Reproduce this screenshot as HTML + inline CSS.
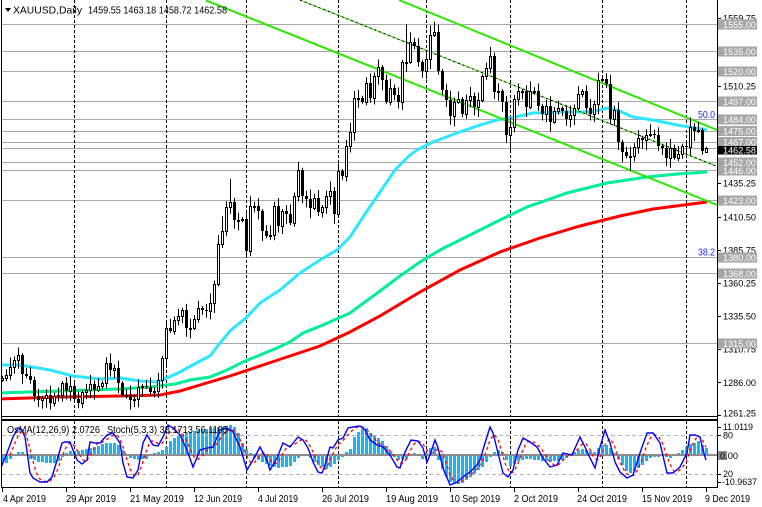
<!DOCTYPE html>
<html><head><meta charset="utf-8">
<style>
html,body{margin:0;padding:0;background:#fff;}
svg{display:block;font-family:"Liberation Sans",Arial,sans-serif;}
</style></head>
<body>
<svg id="c" width="762" height="507" viewBox="0 0 762 507" xmlns="http://www.w3.org/2000/svg">
<defs>
<clipPath id="mc"><rect x="2" y="0" width="715" height="416"/></clipPath>
<clipPath id="ic"><rect x="2" y="421" width="715" height="66"/></clipPath>
</defs>
<rect width="762" height="507" fill="#fff"/>

<!-- horizontal level lines -->
<g stroke="#a8a8a8" stroke-width="1" shape-rendering="crispEdges">
<line x1="2" x2="717" y1="24.5" y2="24.5"/>
<line x1="2" x2="717" y1="51.5" y2="51.5"/>
<line x1="2" x2="717" y1="71.5" y2="71.5"/>
<line x1="2" x2="717" y1="101.5" y2="101.5"/>
<line x1="2" x2="717" y1="119.5" y2="119.5"/>
<line x1="2" x2="717" y1="131.5" y2="131.5"/>
<line x1="2" x2="717" y1="142.5" y2="142.5"/>
<line x1="2" x2="717" y1="148.5" y2="148.5"/>
<line x1="2" x2="717" y1="162.5" y2="162.5"/>
<line x1="2" x2="717" y1="170.5" y2="170.5"/>
<line x1="2" x2="717" y1="200.5" y2="200.5"/>
<line x1="2" x2="717" y1="257.5" y2="257.5"/>
<line x1="2" x2="717" y1="273.5" y2="273.5"/>
<line x1="2" x2="717" y1="343.5" y2="343.5"/>
</g>

<!-- period separators -->
<g stroke="#000" stroke-width="1" stroke-dasharray="3,2" shape-rendering="crispEdges">
<line x1="74.5" x2="74.5" y1="0" y2="416"/>
<line x1="166.5" x2="166.5" y1="0" y2="416"/>
<line x1="246.5" x2="246.5" y1="0" y2="416"/>
<line x1="338.5" x2="338.5" y1="0" y2="416"/>
<line x1="426.5" x2="426.5" y1="0" y2="416"/>
<line x1="510.5" x2="510.5" y1="0" y2="416"/>
<line x1="602.5" x2="602.5" y1="0" y2="416"/>
<line x1="686.5" x2="686.5" y1="0" y2="416"/>
<line x1="74.5" x2="74.5" y1="421" y2="487"/>
<line x1="166.5" x2="166.5" y1="421" y2="487"/>
<line x1="246.5" x2="246.5" y1="421" y2="487"/>
<line x1="338.5" x2="338.5" y1="421" y2="487"/>
<line x1="426.5" x2="426.5" y1="421" y2="487"/>
<line x1="510.5" x2="510.5" y1="421" y2="487"/>
<line x1="602.5" x2="602.5" y1="421" y2="487"/>
<line x1="686.5" x2="686.5" y1="421" y2="487"/>
</g>

<g clip-path="url(#mc)">
<!-- moving averages -->
<polyline fill="none" stroke="#ff0000" stroke-width="3" points="0,399 60,397 120,396 160,395 180,391 200,385 230,376 260,366 290,356 320,346 350,332 380,316 420,292 460,270 500,252 540,238 580,226 620,216 653,209 707,202"/>
<polyline fill="none" stroke="#00ee96" stroke-width="3" points="0,393 60,391 120,389 150,387 175,384 190,380 210,377 227,370 243,362 260,355 277,348 290,342 303,333 323,325 350,313 380,291 400,276 420,262 440,250 460,240 480,230 500,220 527,207 547,200 567,193 587,188 607,183 627,180 647,177 677,174 707,172"/>
<polyline fill="none" stroke="#2ee6ff" stroke-width="3" points="0,365 20,365 50,370 73,376 100,379 120,378 140,381 157,382 167,378 180,372 200,361 210,356 220,343 230,331 247,317 260,303 280,290 300,273 320,260 337,250 350,237 365,214 380,192 395,170 410,155 417,150 433,142 457,133 480,125 497,120 515,117 533,113 567,112 590,112 600,110 607,108 617,110 633,117 653,120 677,125 707,130"/>
<!-- channel -->
<line x1="206" y1="0.4" x2="717" y2="205" stroke="#2ee600" stroke-width="2"/>
<line x1="399" y1="0" x2="717" y2="130" stroke="#2ee600" stroke-width="2"/>
<line x1="300" y1="0" x2="716" y2="166" stroke="#2ee600" stroke-width="1"/>
<line x1="300" y1="0" x2="716" y2="166" stroke="#000" stroke-width="1" stroke-dasharray="2,3"/>
<!-- candles -->
<g id="cand"></g>
<!-- fibo labels -->
<text x="698" y="118" font-size="10.5" fill="#2424ff" textLength="17" lengthAdjust="spacingAndGlyphs">50.0</text>
<text x="698" y="255.5" font-size="10.5" fill="#2424ff" textLength="17" lengthAdjust="spacingAndGlyphs">38.2</text>
<text x="698" y="424" font-size="10.5" fill="#2424ff" textLength="17" lengthAdjust="spacingAndGlyphs">23.6</text>
</g>

<!-- indicator window -->
<g clip-path="url(#ic)">
<g id="hist"></g>
<line x1="2" x2="717" y1="455" y2="455" stroke="#8c8c8c" stroke-width="2"/>
<line x1="2" x2="717" y1="435.5" y2="435.5" stroke="#b4b4b4" stroke-width="1" stroke-dasharray="4,3"/>
<line x1="2" x2="717" y1="474.5" y2="474.5" stroke="#b4b4b4" stroke-width="1" stroke-dasharray="4,3"/>
<g id="stoch"></g>
</g>

<!-- header -->
<polygon points="5,8 11,8 8,12" fill="#000"/>
<text x="13" y="13.5" font-size="10.5" fill="#000" textLength="69" lengthAdjust="spacingAndGlyphs">XAUUSD,Daily</text>
<text x="88" y="13.5" font-size="10.5" fill="#000" textLength="139" lengthAdjust="spacingAndGlyphs">1459.55 1463.18 1458.72 1462.58</text>

<text x="7" y="433" font-size="10.5" fill="#000" textLength="93" lengthAdjust="spacingAndGlyphs">OsMA(12,26,9) 2.0726</text>
<text x="107" y="433" font-size="10.5" fill="#000" textLength="121" lengthAdjust="spacingAndGlyphs">Stoch(5,3,3) 38.1713 56.1105</text>

<!-- frame -->
<g stroke="#000" shape-rendering="crispEdges">
<line x1="1.5" x2="1.5" y1="0" y2="488" stroke-width="1"/>
<line x1="717.5" x2="717.5" y1="0" y2="488" stroke-width="1"/>
<line x1="1" x2="718" y1="416.5" y2="416.5" stroke-width="1"/>
<line x1="1" x2="718" y1="420" y2="420" stroke-width="2"/>
<line x1="1" x2="718" y1="487.5" y2="487.5" stroke-width="1"/>
</g>

<!-- right axis ticks -->
<g stroke="#000" stroke-width="1" shape-rendering="crispEdges">
<line x1="717" x2="721" y1="18.5" y2="18.5"/>
<line x1="717" x2="721" y1="86.5" y2="86.5"/>
<line x1="717" x2="721" y1="183.5" y2="183.5"/>
<line x1="717" x2="721" y1="217.5" y2="217.5"/>
<line x1="717" x2="721" y1="250.5" y2="250.5"/>
<line x1="717" x2="721" y1="283.5" y2="283.5"/>
<line x1="717" x2="721" y1="316.5" y2="316.5"/>
<line x1="717" x2="721" y1="349.5" y2="349.5"/>
<line x1="717" x2="721" y1="382.5" y2="382.5"/>
<line x1="717" x2="721" y1="415.5" y2="415.5"/>
<line x1="717" x2="721" y1="427.5" y2="427.5"/>
<line x1="717" x2="721" y1="435.5" y2="435.5"/>
<line x1="717" x2="721" y1="474.5" y2="474.5"/>
<line x1="717" x2="721" y1="482.5" y2="482.5"/>
</g>
<g font-size="9.5" fill="#000">
<text x="723" y="21.5" textLength="33" lengthAdjust="spacingAndGlyphs">1559.75</text>
<text x="723" y="89.5" textLength="33" lengthAdjust="spacingAndGlyphs">1510.25</text>
<text x="723" y="186.5" textLength="33" lengthAdjust="spacingAndGlyphs">1435.25</text>
<text x="723" y="220.5" textLength="33" lengthAdjust="spacingAndGlyphs">1410.50</text>
<text x="723" y="253.5" textLength="33" lengthAdjust="spacingAndGlyphs">1385.75</text>
<text x="723" y="286.5" textLength="33" lengthAdjust="spacingAndGlyphs">1360.25</text>
<text x="723" y="319.5" textLength="33" lengthAdjust="spacingAndGlyphs">1335.50</text>
<text x="723" y="352.5" textLength="33" lengthAdjust="spacingAndGlyphs">1310.75</text>
<text x="723" y="386" textLength="33" lengthAdjust="spacingAndGlyphs">1286.00</text>
<text x="723" y="416.5" textLength="33" lengthAdjust="spacingAndGlyphs">1261.25</text>
<text x="723" y="430" textLength="30" lengthAdjust="spacingAndGlyphs">11.0119</text>
<text x="723" y="438.5" textLength="10" lengthAdjust="spacingAndGlyphs">80</text>
<text x="723" y="477" textLength="10" lengthAdjust="spacingAndGlyphs">20</text>
<text x="722" y="485" textLength="35" lengthAdjust="spacingAndGlyphs">-10.9637</text>
</g>
<rect x="718" y="451" width="9" height="9" fill="#8c8c8c"/>
<text x="720" y="459" font-size="9.5" fill="#000" textLength="18" lengthAdjust="spacingAndGlyphs">0.00</text>

<!-- price boxes -->
<g font-size="9.5" fill="#fff">
<rect x="718" y="19.5" width="39" height="10" fill="#a6a6a6"/><text x="723" y="28" textLength="33" lengthAdjust="spacingAndGlyphs">1555.00</text>
<rect x="718" y="46.5" width="39" height="10" fill="#a6a6a6"/><text x="723" y="55" textLength="33" lengthAdjust="spacingAndGlyphs">1535.00</text>
<rect x="718" y="66.5" width="39" height="10" fill="#a6a6a6"/><text x="723" y="75" textLength="33" lengthAdjust="spacingAndGlyphs">1520.00</text>
<rect x="718" y="96.5" width="39" height="10" fill="#a6a6a6"/><text x="723" y="105" textLength="33" lengthAdjust="spacingAndGlyphs">1497.00</text>
<rect x="718" y="114.5" width="39" height="10" fill="#a6a6a6"/><text x="723" y="123" textLength="33" lengthAdjust="spacingAndGlyphs">1484.00</text>
<rect x="718" y="126" width="39" height="10" fill="#a6a6a6"/><text x="723" y="134.5" textLength="33" lengthAdjust="spacingAndGlyphs">1475.00</text>
<rect x="718" y="137" width="39" height="10" fill="#a6a6a6"/><text x="723" y="145.5" textLength="33" lengthAdjust="spacingAndGlyphs">1467.00</text>
<rect x="718" y="165.5" width="39" height="10" fill="#a6a6a6"/><text x="723" y="174" textLength="33" lengthAdjust="spacingAndGlyphs">1446.00</text>
<rect x="718" y="157.5" width="39" height="10" fill="#a6a6a6"/><text x="723" y="166" textLength="33" lengthAdjust="spacingAndGlyphs">1452.00</text>
<rect x="718" y="195.5" width="39" height="10" fill="#a6a6a6"/><text x="723" y="204" textLength="33" lengthAdjust="spacingAndGlyphs">1423.00</text>
<rect x="718" y="252.5" width="39" height="10" fill="#a6a6a6"/><text x="723" y="261" textLength="33" lengthAdjust="spacingAndGlyphs">1380.00</text>
<rect x="718" y="268.5" width="39" height="10" fill="#a6a6a6"/><text x="723" y="277" textLength="33" lengthAdjust="spacingAndGlyphs">1368.00</text>
<rect x="718" y="338.5" width="39" height="10" fill="#a6a6a6"/><text x="723" y="347" textLength="33" lengthAdjust="spacingAndGlyphs">1315.00</text>
<rect x="718" y="146" width="39" height="8.5" fill="#000"/><text x="723" y="153.5" textLength="33" lengthAdjust="spacingAndGlyphs">1462.58</text>
</g>

<!-- date axis -->
<g stroke="#000" stroke-width="1" shape-rendering="crispEdges">
<line x1="2.5" x2="2.5" y1="488" y2="492"/>
<line x1="66.5" x2="66.5" y1="488" y2="492"/>
<line x1="130.5" x2="130.5" y1="488" y2="492"/>
<line x1="194.5" x2="194.5" y1="488" y2="492"/>
<line x1="258.5" x2="258.5" y1="488" y2="492"/>
<line x1="322.5" x2="322.5" y1="488" y2="492"/>
<line x1="386.5" x2="386.5" y1="488" y2="492"/>
<line x1="450.5" x2="450.5" y1="488" y2="492"/>
<line x1="514.5" x2="514.5" y1="488" y2="492"/>
<line x1="578.5" x2="578.5" y1="488" y2="492"/>
<line x1="642.5" x2="642.5" y1="488" y2="492"/>
<line x1="706.5" x2="706.5" y1="488" y2="492"/>
</g>
<g font-size="10" fill="#000">
<text x="3" y="502" textLength="43" lengthAdjust="spacingAndGlyphs">4 Apr 2019</text>
<text x="66" y="502" textLength="50" lengthAdjust="spacingAndGlyphs">29 Apr 2019</text>
<text x="130" y="502" textLength="54" lengthAdjust="spacingAndGlyphs">21 May 2019</text>
<text x="194" y="502" textLength="48" lengthAdjust="spacingAndGlyphs">12 Jun 2019</text>
<text x="258" y="502" textLength="40" lengthAdjust="spacingAndGlyphs">4 Jul 2019</text>
<text x="322" y="502" textLength="47" lengthAdjust="spacingAndGlyphs">26 Jul 2019</text>
<text x="386" y="502" textLength="52" lengthAdjust="spacingAndGlyphs">19 Aug 2019</text>
<text x="450" y="502" textLength="50" lengthAdjust="spacingAndGlyphs">10 Sep 2019</text>
<text x="514" y="502" textLength="44" lengthAdjust="spacingAndGlyphs">2 Oct 2019</text>
<text x="577" y="502" textLength="50" lengthAdjust="spacingAndGlyphs">24 Oct 2019</text>
<text x="642" y="502" textLength="50" lengthAdjust="spacingAndGlyphs">15 Nov 2019</text>
<text x="705" y="502" textLength="45" lengthAdjust="spacingAndGlyphs">9 Dec 2019</text>
</g>
</svg>

<script>
(function(){
var C=[1290,1292,1298,1303,1307,1293,1291,1288,1276,1273,
1275,1277,1271,1276,1277,1286,1280,1284,1274,1271,
1279,1281,1285,1281,1284,1286,1301,1296,1297,1286,
1277,1277,1273,1274,1283,1284,1283,1279,1280,1288,
1305,1327,1325,1333,1336,1341,1327,1327,1334,1342,
1341,1340,1346,1360,1390,1400,1418,1422,1408,1408,
1409,1385,1419,1419,1415,1400,1396,1397,1419,1404,
1415,1413,1406,1426,1446,1426,1424,1417,1425,1414,
1418,1426,1430,1413,1445,1441,1464,1474,1500,1500,
1497,1511,1500,1516,1523,1513,1497,1507,1502,1497,
1527,1527,1542,1539,1527,1520,1529,1547,1549,1520,
1506,1498,1486,1497,1499,1488,1498,1501,1493,1498,
1516,1522,1531,1504,1505,1497,1472,1478,1499,1505,
1505,1493,1505,1505,1494,1488,1494,1482,1490,1492,
1490,1484,1487,1492,1503,1505,1492,1488,1495,1513,
1514,1510,1484,1491,1467,1459,1456,1456,1463,1470,
1468,1472,1473,1472,1464,1462,1455,1462,1455,1458,
1464,1463,1478,1475,1476,1460,1462.58];
var HO={41:1329,54:1397,55:1411,57:1439,62:1420,68:1421,74:1452,88:1505,94:1525,101:1555,102:1546,107:1551,108:1557,122:1535,150:1516,172:1479};
var LO={12:1266,19:1267,32:1266,61:1382,112:1485,126:1466,127:1459,155:1456,157:1445};
function Y(p){return 416-(p-1261.25)*4/3;}
var wick='',bodies='',prev=1288.5;
for(var i=0;i<C.length;i++){
  var o=prev,c=C[i];
  var h=Math.max(o,c)+1.5+((i*7)%5)*1.4;
  var l=Math.min(o,c)-1.5-((i*13)%6)*1.2;
  if(HO[i]!==undefined)h=Math.max(h,HO[i]);
  if(LO[i]!==undefined)l=Math.min(l,LO[i]);
  if(i==C.length-1){o=1459.55;h=1463.18;l=1458.72;}
  var cx=2+4*i;
  wick+='M'+(cx+0.5)+' '+Y(h).toFixed(1)+'V'+Y(l).toFixed(1);
  var t=Math.round(Y(Math.max(o,c))),b=Math.round(Y(Math.min(o,c)));
  var hh=Math.max(b-t,1);
  if(c>=o){
    bodies+='<rect x="'+(cx-0.5)+'" y="'+(t+0.5)+'" width="2" height="'+hh+'" fill="#fff" stroke="#000" stroke-width="1"/>';
  }else{
    bodies+='<rect x="'+(cx-1)+'" y="'+t+'" width="3" height="'+hh+'" fill="#000"/>';
  }
  prev=c;
}
document.getElementById('cand').innerHTML='<path d="'+wick+'" stroke="#000" stroke-width="1" fill="none"/>'+bodies;

function interp(P,x){
  if(x<=P[0][0])return P[0][1];
  for(var k=1;k<P.length;k++){if(x<=P[k][0]){var a=P[k-1],b=P[k];return a[1]+(b[1]-a[1])*(x-a[0])/(b[0]-a[0]);}}
  return P[P.length-1][1];
}
var HP=[[2,-7],[6,-8],[10,-4],[14,0],[18,3],[22,3],[26,-1],[30,-4],[38,-7],[46,-8],[54,-8],[58,-6],[62,-2],[66,2],[70,4],[76,4],[82,5],[90,7],[98,9],[106,12],[114,12],[118,10],[122,5],[126,1],[130,-3],[138,-5],[146,-4],[150,-1],[154,2],[160,4],[166,8],[170,14],[174,17],[180,20],[190,23],[200,25],[210,27],[220,28],[230,30],[234,28],[238,22],[242,12],[246,6],[250,2],[254,-3],[258,-5],[264,-8],[270,-11],[278,-13],[286,-12],[292,-10],[296,-5],[300,-1],[306,1],[310,-3],[314,-7],[320,-11],[326,-14],[330,-12],[334,-9],[338,-5],[342,-2],[346,3],[350,6],[354,18],[358,23],[362,26],[366,27],[370,22],[374,20],[378,17],[382,14],[386,9],[390,4],[394,-2],[398,-5],[402,-4],[406,-4],[410,-1],[414,2],[418,1],[422,-4],[426,2],[430,7],[434,8],[438,-5],[442,-14],[446,-22],[450,-27],[456,-30],[462,-28],[466,-25],[470,-22],[476,-17],[482,-12],[486,-7],[490,-2],[494,3],[498,5],[502,3],[506,-5],[510,-11],[514,-9],[518,-6],[524,-4],[530,-4],[536,-5],[542,-6],[550,-7],[558,-6],[564,-4],[570,-1],[574,3],[578,5],[584,6],[590,4],[594,3],[598,7],[602,10],[606,10],[610,7],[614,2],[618,-4],[622,-10],[626,-16],[630,-18],[634,-16],[638,-13],[642,-10],[646,-6],[650,-3],[656,-2],[662,-1],[666,-2],[670,-3],[674,-1],[678,2],[682,5],[686,8],[690,11],[694,12],[698,14],[702,10],[706,7]];
var hs='';
for(var i=0;i<177;i++){
  var cx=2+4*i,v=Math.round(interp(HP,cx));
  if(v>0)hs+='<rect x="'+(cx-1)+'" y="'+(455-v)+'" width="3" height="'+v+'"/>';
  else if(v<0)hs+='<rect x="'+(cx-1)+'" y="455" width="3" height="'+(-v)+'"/>';
}
document.getElementById('hist').innerHTML='<g fill="#1cb4ee">'+hs+'</g>';

var SP=[[0,470],[7,453],[13,437],[18,428],[22,430],[25,437],[30,473],[33,478],[40,482],[47,482],[52,477],[58,457],[62,443],[65,442],[70,442],[73,450],[77,460],[82,464],[87,460],[90,442],[95,443],[100,443],[107,435],[113,433],[120,443],[123,463],[127,477],[133,478],[138,470],[143,443],[147,435],[153,445],[158,446],[163,437],[168,425],[173,428],[180,435],[187,450],[193,467],[200,450],[207,448],[213,447],[220,430],[227,428],[233,432],[240,447],[247,470],[253,460],[260,447],[267,460],[270,470],[277,458],[283,443],[290,447],[298,437],[303,440],[308,448],[313,462],[318,472],[322,473],[325,465],[330,447],[333,448],[338,440],[343,438],[348,428],[353,427],[360,426],[365,430],[370,440],[377,445],[383,447],[390,455],[397,467],[400,468],[405,452],[411,440],[418,441],[423,448],[427,462],[430,455],[435,440],[438,448],[443,468],[450,485],[457,482],[463,477],[470,472],[477,465],[480,460],[485,443],[490,427],[493,433],[498,453],[503,473],[508,477],[513,470],[518,450],[523,438],[530,442],[537,447],[543,458],[550,467],[557,465],[563,453],[572,455],[580,437],[585,447],[590,458],[595,468],[600,447],[605,430],[610,443],[615,462],[620,472],[627,478],[633,475],[640,453],[647,433],[653,433],[660,443],[667,473],[673,473],[680,467],[687,453],[690,435],[695,435],[700,437],[703,450],[706,460]];
var bp=SP.map(function(p){return p[0]+','+p[1];}).join(' ');
var smp=[];for(var i=0;i<177;i++)smp.push(interp(SP,2+4*i));
var rp=[];
for(var i=2;i<177;i++){rp.push((2+4*i)+','+((smp[i]+smp[i-1]+smp[i-2])/3).toFixed(1));}
document.getElementById('stoch').innerHTML=
 '<polyline fill="none" stroke="#ff0000" stroke-width="1.3" stroke-dasharray="3,3" points="'+rp.join(' ')+'"/>'+
 '<polyline fill="none" stroke="#0000ff" stroke-width="1.4" points="'+bp+'"/>';
})();
</script>
</body></html>
